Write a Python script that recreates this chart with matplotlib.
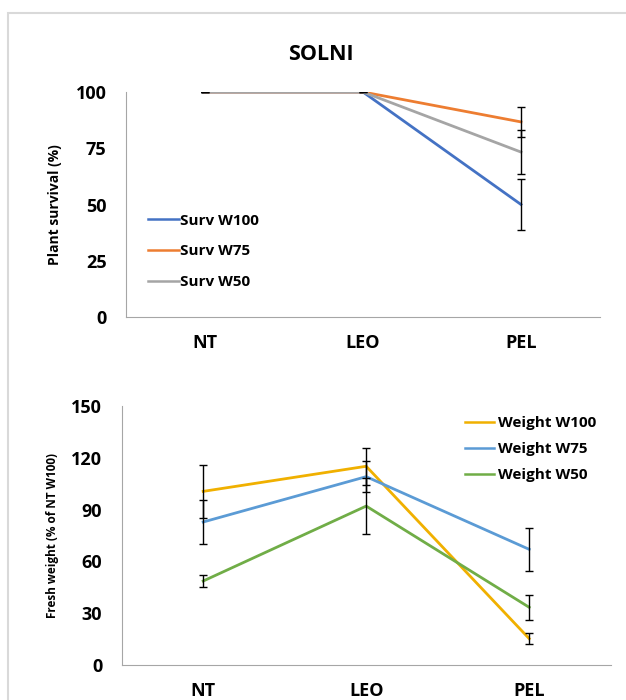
import matplotlib.pyplot as plt
from matplotlib.patches import Rectangle

plt.rcParams['font.family'] = ['Open Sans', 'DejaVu Sans']
plt.rcParams['font.weight'] = 'bold'

stages = ['NT', 'LEO', 'PEL']

# plant survival (%)
surv_w100 = [100, 100, 50]
surv_w75 = [100, 100, 86.7]
surv_w50 = [100, 100, 73.3]
surv_w100_err = [0, 0, 11.3]
surv_w75_err = [0, 0, 6.7]
surv_w50_err = [0, 0, 9.8]

# fresh weight (% of NT W100)
wt_w100 = [100.5, 115, 15.4]
wt_w75 = [82.8, 109, 67]
wt_w50 = [48.7, 92, 33.5]
wt_w100_err = [15.4, 10.6, 3.0]
wt_w75_err = [12.5, 9.0, 12.3]
wt_w50_err = [3.4, 16.0, 7.2]

fig = plt.figure(figsize=(6.26, 7), dpi=100)
fig.patches.append(Rectangle((8 / 626, -0.01), 1.0, 1 - 13 / 700 + 0.01,
                             transform=fig.transFigure, fill=False,
                             edgecolor='#D9D9D9', lw=1.5))
fig.text(321 / 626, 1 - 55 / 700, 'SOLNI', ha='center', va='center',
         fontsize=15.5, fontweight='bold')

x = range(len(stages))


def style(ax, ymax, step):
    for s in ['top', 'right']:
        ax.spines[s].set_visible(False)
    for s in ['left', 'bottom']:
        ax.spines[s].set_color('#A6A6A6')
    ax.set_xlim(-0.5, 2.5)
    ax.set_ylim(0, ymax)
    ax.set_yticks(range(0, ymax + 1, step))
    ax.set_xticks(list(x))
    ax.set_xticklabels(stages)
    ax.tick_params(length=0, labelsize=13)
    ax.tick_params(axis='x', pad=12)
    ax.tick_params(axis='y', pad=14)
    for lab in ax.get_xticklabels() + ax.get_yticklabels():
        lab.set_fontweight('bold')


ax1 = fig.add_axes([126 / 626, 383 / 700, 474 / 626, 225 / 700])
for vals, err, col, lab in [(surv_w100, surv_w100_err, '#4472C4', 'Surv W100'),
                            (surv_w75, surv_w75_err, '#ED7D31', 'Surv W75'),
                            (surv_w50, surv_w50_err, '#A5A5A5', 'Surv W50')]:
    ax1.plot(x, vals, color=col, lw=2, label=lab)
    ax1.errorbar(x, vals, yerr=err, fmt='none', ecolor='black', elinewidth=1,
                 capsize=3, capthick=1)
style(ax1, 100, 25)
ax1.set_ylabel('Plant survival (%)', fontsize=10, fontweight='bold', labelpad=10)
leg1 = ax1.legend(loc='lower left', bbox_to_anchor=(0.018, 0.062), frameon=False,
                  prop={'weight': 'bold', 'size': 11}, handlelength=2.0,
                  handletextpad=0.1, labelspacing=1.1)
for h in leg1.get_lines():
    h.set_linewidth(1.8)

ax2 = fig.add_axes([121.7 / 626, 34.7 / 700, 489 / 626, 259.6 / 700])
for vals, err, col, lab in [(wt_w100, wt_w100_err, '#F0B000', 'Weight W100'),
                            (wt_w75, wt_w75_err, '#5B9BD5', 'Weight W75'),
                            (wt_w50, wt_w50_err, '#70AD47', 'Weight W50')]:
    ax2.plot(x, vals, color=col, lw=2, label=lab)
    ax2.errorbar(x, vals, yerr=err, fmt='none', ecolor='black', elinewidth=1,
                 capsize=3, capthick=1)
style(ax2, 150, 30)
ax2.set_ylabel('Fresh weight (% of NT W100)', fontsize=8.5, fontweight='bold',
               labelpad=9)
leg2 = ax2.legend(loc='upper right', bbox_to_anchor=(0.998, 1.013), frameon=False,
                  prop={'weight': 'bold', 'size': 11}, handlelength=1.9,
                  handletextpad=0.25, labelspacing=0.78)
for h in leg2.get_lines():
    h.set_linewidth(1.8)

fig.savefig('out.png', dpi=100)
